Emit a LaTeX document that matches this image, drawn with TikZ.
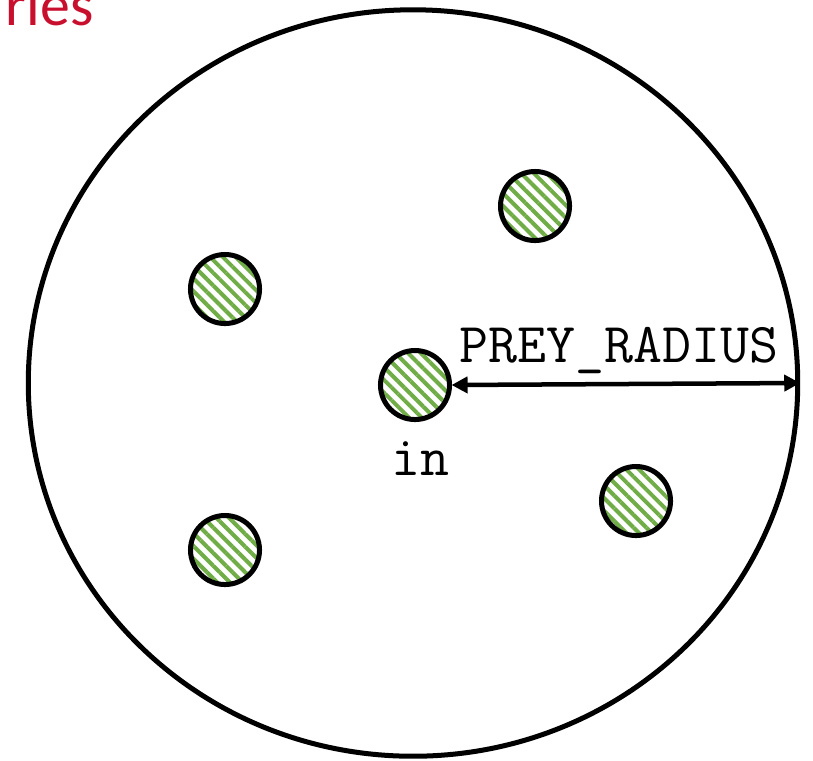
\documentclass[tikz,border=0pt]{standalone}
\usepackage{fontspec}
\setmainfont{Carlito}
\definecolor{preygreen}{RGB}{112, 173, 71}
\definecolor{titlered}{RGB}{200, 16, 46}
\usetikzlibrary{shapes.geometric, arrows.meta, patterns.meta}

\begin{document}
\begin{tikzpicture}[x=0.01cm, y=-0.01cm,
  field/.style={ellipse, draw, line width=0.05cm, minimum width=7.69cm, minimum height=7.46cm, inner sep=0pt},
  prey/.style={circle, draw, line width=0.05cm, minimum size=0.69cm, inner sep=0pt,
    pattern={Lines[angle=-45, distance=0.09cm, line width=0.04cm]}, pattern color=preygreen},
  codetext/.style={font=\ttfamily\fontsize{16pt}{19pt}\selectfont, inner sep=0pt}]
  \useasboundingbox (0,0) rectangle (813,760);

  % title (cut off)
  \node[anchor=base west, inner sep=0pt, text=titlered, font=\fontsize{17pt}{20pt}\selectfont] (title) at (5,25) {ries};

  % detection area
  \node[field] (area) at (413,383) {};

  % prey
  \node[prey] (in) at (415,385) {};
  \node[prey] (p1) at (535,206) {};
  \node[prey] (p2) at (225,289) {};
  \node[prey] (p3) at (225,550) {};
  \node[prey] (p4) at (636,501) {};

  % radius
  \draw[line width=0.045cm, {Triangle[length=0.16cm, width=0.16cm]}-{Triangle[length=0.16cm, width=0.16cm]}]
    (in.east) -- (area.east)
    node[midway, anchor=base, yshift=0.22cm, xshift=-0.07cm, codetext] (radiuslabel) {PREY\_RADIUS};
  \node[codetext, anchor=base] (inlabel) at (420,475) {in};
\end{tikzpicture}
\end{document}
